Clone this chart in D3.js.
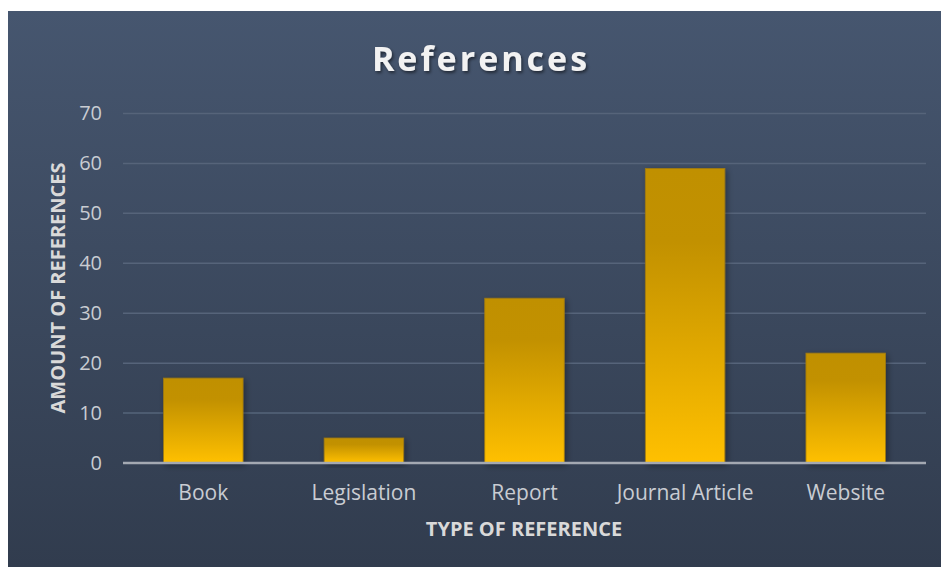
<!DOCTYPE html>
<html><head><meta charset="utf-8">
<script src="https://cdn.jsdelivr.net/npm/d3@7"></script>
<style>html,body{margin:0;padding:0;background:#fff;}svg{display:block;}</style>
</head><body>
<svg id="c" width="941" height="567"></svg>
<script>
const categories = ["Book", "Legislation", "Report", "Journal Article", "Website"];
const values = [17, 5, 33, 59, 22];
const yTicks = [0, 10, 20, 30, 40, 50, 60, 70];
const title = "References";
const xTitle = "TYPE OF REFERENCE";
const yTitle = "AMOUNT OF REFERENCES";

const svg = d3.select("#c");
const defs = svg.append("defs");
const bg = defs.append("linearGradient").attr("id","bg").attr("x1",0).attr("y1",0).attr("x2",0).attr("y2",1);
bg.append("stop").attr("offset","0%").attr("stop-color","#46566f");
bg.append("stop").attr("offset","100%").attr("stop-color","#313c4e");
const bar = defs.append("linearGradient").attr("id","bar").attr("x1",0).attr("y1",0).attr("x2",0).attr("y2",1);
bar.append("stop").attr("offset","0%").attr("stop-color","#c09000");
bar.append("stop").attr("offset","25%").attr("stop-color","#c29100");
bar.append("stop").attr("offset","100%").attr("stop-color","#ffc000");
const sh = defs.append("filter").attr("id","sh").attr("x","-20%").attr("y","-20%").attr("width","140%").attr("height","140%");
sh.append("feDropShadow").attr("dx",2).attr("dy",2).attr("stdDeviation",3).attr("flood-color","#000").attr("flood-opacity",0.35);
const tsh = defs.append("filter").attr("id","tsh");
tsh.append("feDropShadow").attr("dx",1.5).attr("dy",2).attr("stdDeviation",1.5).attr("flood-color","#000").attr("flood-opacity",0.5);

svg.append("rect").attr("x",8).attr("y",11).attr("width",933).attr("height",556).attr("fill","url(#bg)");

const x = d3.scaleBand().domain(categories).range([123, 926]).paddingInner(0.505).paddingOuter(0.2525);
const y = d3.scaleLinear().domain([0, 70]).range([463, 113.5]);

// grid
svg.append("g").selectAll("line").data(yTicks.filter(d => d > 0)).join("line")
  .attr("x1",123).attr("x2",926).attr("y1",d=>y(d)).attr("y2",d=>y(d))
  .attr("stroke","#56647a").attr("stroke-width",1.5);

// y axis labels
const yAxis = d3.axisLeft(y).tickValues(yTicks).tickSize(0).tickPadding(21);
const ya = svg.append("g").attr("transform","translate(123,0)").call(yAxis);
ya.select(".domain").remove();
ya.selectAll("text").attr("fill","#c9ccd2").attr("font-family","'Open Sans', sans-serif").attr("font-size",20);

// bars
svg.append("g").selectAll("rect").data(values).join("rect")
  .attr("x",(d,i)=>x(categories[i])).attr("width",x.bandwidth())
  .attr("y",d=>y(d)).attr("height",d=>y(0)-y(d))
  .attr("fill","url(#bar)").attr("stroke","#a07a10").attr("stroke-width",0.8)
  .attr("filter","url(#sh)");

// x axis
const xAxis = d3.axisBottom(x).tickSize(0).tickPadding(22);
const xa = svg.append("g").attr("transform","translate(0,463)").call(xAxis);
xa.select(".domain").attr("stroke","#a4a9b2").attr("stroke-width",2.5).attr("d","M123,0H926");
xa.selectAll("text").attr("fill","#c9ccd2").attr("font-family","'Open Sans', sans-serif").attr("font-size",21);

// title
svg.append("text").attr("x",481).attr("y",71).attr("text-anchor","middle")
  .attr("font-family","'Open Sans', sans-serif").attr("font-weight","bold").attr("font-size",34)
  .attr("letter-spacing",3).attr("fill","#f2f2f2").attr("filter","url(#tsh)").text(title);

svg.append("text").attr("x",524).attr("y",536).attr("text-anchor","middle")
  .attr("font-family","'Open Sans', sans-serif").attr("font-weight","bold").attr("font-size",20)
  .attr("fill","#d9d9d9").text(xTitle);

svg.append("text").attr("transform","translate(65,288) rotate(-90)").attr("text-anchor","middle")
  .attr("font-family","'Open Sans', sans-serif").attr("font-weight","bold").attr("font-size",20)
  .attr("fill","#d9d9d9").text(yTitle);
</script>
</body></html>
